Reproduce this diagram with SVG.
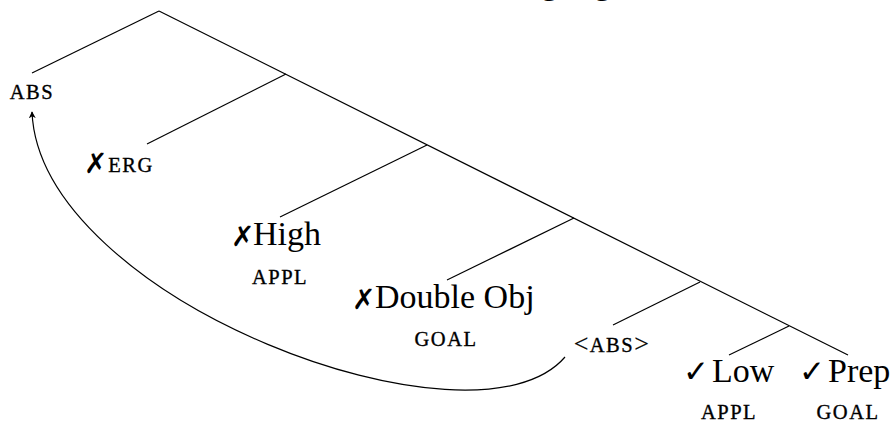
<svg xmlns="http://www.w3.org/2000/svg" width="892" height="423" viewBox="0 0 892 423">
<style>
  .ln{stroke:#000;stroke-width:1.2;fill:none}
  .big{font-family:"Liberation Serif",serif;font-size:34px;fill:#000}
  .sc{font-family:"Liberation Serif",serif;font-size:20.5px;letter-spacing:1.5px;fill:#000;stroke:#000;stroke-width:0.35;text-anchor:middle}
  .ang{font-size:26px;stroke-width:0.2}
  .mk{font-family:"DejaVu Sans",sans-serif;font-size:28px;font-weight:bold;fill:#000}
  .ck{font-size:31px}
</style>
<defs>
  <marker id="ah" viewBox="0 0 10 10" refX="9" refY="5" markerWidth="7" markerHeight="7" orient="auto" markerUnits="userSpaceOnUse">
    <path d="M0,0 L10,5 L0,10 L3,5 Z" fill="#000"/>
  </marker>
</defs>
<rect width="892" height="423" fill="#fff"/>
<text class="big" y="-6"><tspan x="541">g</tspan><tspan x="594">g</tspan></text>
<g id="connectors">
  <line class="ln" x1="159" y1="11" x2="848" y2="355"/>
  <line class="ln" x1="159" y1="11" x2="32" y2="73"/>
  <line class="ln" x1="286" y1="74" x2="147" y2="144"/>
  <line class="ln" x1="427" y1="145" x2="280" y2="217"/>
  <line class="ln" x1="574" y1="218" x2="447" y2="280"/>
  <line class="ln" x1="700" y1="282" x2="613" y2="325"/>
  <line class="ln" x1="789" y1="326" x2="729" y2="355"/>
  <path class="ln" d="M565,357 C475,462 40,300 32,112" marker-end="url(#ah)"/>
</g>
<g id="n-abs"><text class="sc" x="32" y="99">ABS</text></g>
<g id="n-erg"><text class="mk" x="84" y="173">✗</text><text class="sc" x="131" y="172">ERG</text></g>
<g id="n-high"><text class="mk" x="231" y="246">✗</text><text class="big" x="253" y="245">High</text><text class="sc" x="280" y="284">APPL</text></g>
<g id="n-double"><text class="mk" x="352" y="309">✗</text><text class="big" x="375" y="308">Double Obj</text><text class="sc" x="446" y="346">GOAL</text></g>
<g id="n-trace"><text class="sc" x="612" y="352"><tspan class="ang">&lt;</tspan>ABS<tspan class="ang">&gt;</tspan></text></g>
<g id="n-low"><text class="mk ck" x="683" y="382">✓</text><text class="big" x="712" y="382">Low</text><text class="sc" x="729" y="419">APPL</text></g>
<g id="n-prep"><text class="mk ck" x="799" y="382">✓</text><text class="big" x="828" y="382">Prep</text><text class="sc" x="848" y="419">GOAL</text></g>
</svg>
